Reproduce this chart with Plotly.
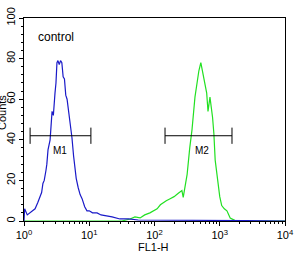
import math
import plotly.graph_objects as go

# ---- data ----
blue_log_x = [0.0, 0.01, 0.05, 0.09, 0.13, 0.17, 0.21, 0.245, 0.27, 0.29, 0.31, 0.337, 0.35, 0.368,
              0.40, 0.43, 0.45, 0.475, 0.49, 0.505, 0.52, 0.54, 0.56, 0.58, 0.60, 0.62, 0.64, 0.66,
              0.68, 0.705, 0.735, 0.76, 0.78, 0.80, 0.83, 0.86, 0.89, 0.93, 0.965, 1.0, 1.05,
              1.12, 1.18, 1.27, 1.35, 1.47, 1.6, 1.75, 1.93, 2.2, 2.6, 3.0, 3.4, 4.0]
blue_counts = [0, 6, 3, 4, 5, 6, 9, 12, 14, 18.5, 20, 25, 28, 35,
               40, 54, 52, 63, 68, 78, 79, 77, 79, 78, 71, 70, 62, 60,
               55, 51, 41, 32, 25, 21, 16.5, 13, 11, 7, 5, 5, 4,
               4, 3, 2.5, 2, 1, 1, 0.5, 0.5, 0.3, 0.3, 0.3, 0.2, 0]

green_log_x = [0.0, 0.5, 1.0, 1.5, 1.625, 1.7, 1.78, 1.85, 1.93, 1.98, 2.04, 2.09, 2.13, 2.18, 2.24,
               2.3, 2.36, 2.42, 2.44, 2.47, 2.50, 2.54, 2.575, 2.62, 2.65, 2.68, 2.71, 2.74, 2.77,
               2.80, 2.82, 2.85, 2.89, 2.91, 2.93, 2.97, 3.0, 3.03, 3.07, 3.11, 3.16, 3.23, 3.31, 4.0]
green_counts = [0, 0, 0, 0, 1, 2, 1.5, 3, 4, 5, 6, 8, 9, 10, 11,
                12, 13.5, 15, 11.6, 18, 23, 36, 45, 61, 68, 74, 78, 73, 69,
                63, 54, 61, 51, 43, 30, 20, 12, 7.6, 6, 5, 1.5, 0.3, 0, 0]

y_ticks = [0, 20, 40, 60, 80, 100]
x_tick_vals = [1, 10, 100, 1000, 10000]
x_tick_text = ["10<sup>0</sup>", "10<sup>1</sup>", "10<sup>2</sup>", "10<sup>3</sup>", "10<sup>4</sup>"]
x_minor_vals = [m * 10 ** d for d in range(4) for m in range(2, 10)]

markers = [("M1", 1.24, 10.6, 3.6), ("M2", 145, 1540, 535)]
marker_level = 42

# ---- figure ----
fig = go.Figure()
fig.add_trace(go.Scatter(x=[10 ** v for v in green_log_x], y=green_counts, mode="lines",
                         line=dict(color="#22e022", width=1.2), hoverinfo="skip"))
fig.add_trace(go.Scatter(x=[10 ** v for v in blue_log_x], y=blue_counts, mode="lines",
                         line=dict(color="#1a1ac8", width=1.2), hoverinfo="skip"))

for name, x0, x1, xl in markers:
    fig.add_trace(go.Scatter(
        x=[x0, x0, None, x0, x1, None, x1, x1],
        y=[marker_level - 4, marker_level + 4, None, marker_level, marker_level, None,
           marker_level - 4, marker_level + 4],
        mode="lines", line=dict(color="black", width=1), hoverinfo="skip"))

annotations = [
    dict(x=0.18, y=90.6, xref="x", yref="y", text="control", showarrow=False,
         xanchor="left", yanchor="middle", font=dict(size=12, color="black")),
    dict(x=(153 - 24) / 261, y=-(247 - 221) / 203, xref="paper", yref="paper",
         text="FL1-H", showarrow=False, yanchor="middle", font=dict(size=11)),
    dict(x=0, y=(221 - 113) / 203, xref="paper", yref="paper", xshift=-30,
         text="Counts", showarrow=False, textangle=-90, xanchor="left",
         yanchor="middle", font=dict(size=11)),
]
for name, x0, x1, xl in markers:
    annotations.append(dict(x=math.log10(xl), y=34.5, xref="x", yref="y", text=name,
                            showarrow=False, font=dict(size=10, color="black")))

fig.update_layout(
    width=301, height=254,
    margin=dict(l=24, r=16, t=18, b=33, autoexpand=False),
    paper_bgcolor="white", plot_bgcolor="white",
    showlegend=False,
    font=dict(family="Liberation Sans, Arial, sans-serif", size=11, color="black"),
    xaxis=dict(type="log", range=[0, 4], tickvals=x_tick_vals, ticktext=x_tick_text,
               ticks="outside", ticklen=4, tickcolor="black", showgrid=False, zeroline=False,
               showline=True, linecolor="black", linewidth=1, mirror=True, automargin=False,
               minor=dict(tickvals=x_minor_vals, ticks="outside", ticklen=2, tickcolor="black"),
               tickfont=dict(size=11)),
    yaxis=dict(range=[0, 100], tickvals=y_ticks, tickangle=-90,
               ticks="outside", ticklen=4, tickcolor="black", showgrid=False, zeroline=False,
               showline=True, linecolor="black", linewidth=1, mirror=True, automargin=False,
               minor=dict(dtick=4, ticks="outside", ticklen=2, tickcolor="black"),
               tickfont=dict(size=11)),
    annotations=annotations,
)

fig.write_html("out.html")
